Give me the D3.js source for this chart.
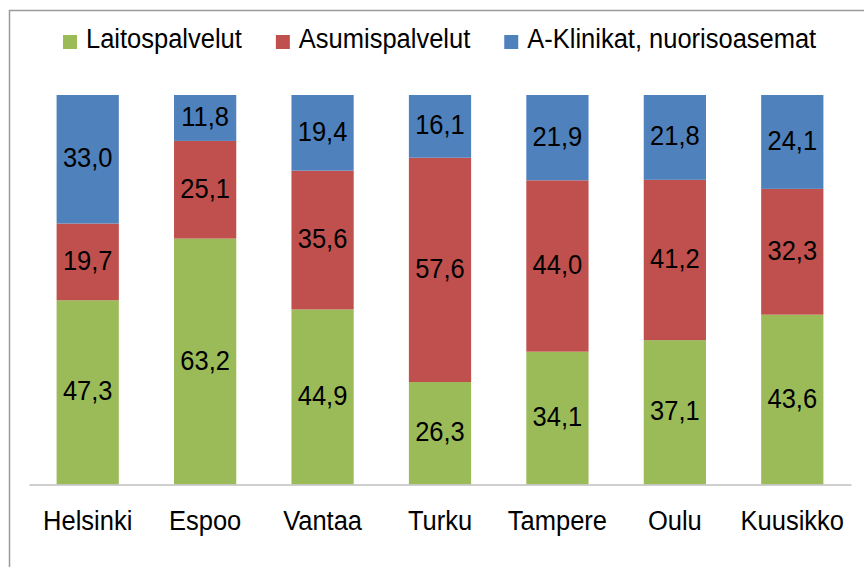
<!DOCTYPE html>
<html>
<head>
<meta charset="utf-8">
<script src="https://cdn.jsdelivr.net/npm/d3@7"></script>
<style>
  body { margin: 0; background: #fff; }
  svg { display: block; font-family: "Liberation Sans", Arial, sans-serif; }
</style>
</head>
<body>
<script>
// data
var cities = ['Helsinki', 'Espoo', 'Vantaa', 'Turku', 'Tampere', 'Oulu', 'Kuusikko'];
var laitos = [47.3, 63.2, 44.9, 26.3, 34.1, 37.1, 43.6];
var asumis = [19.7, 25.1, 35.6, 57.6, 44.0, 41.2, 32.3];
var klinikat = [33.0, 11.8, 19.4, 16.1, 21.9, 21.8, 24.1];
var seriesNames = ['Laitospalvelut', 'Asumispalvelut', 'A-Klinikat, nuorisoasemat'];
var colors = ['#9BBB59', '#C0504D', '#4F81BD'];

var keys = ['laitos', 'asumis', 'klinikat'];
var rows = cities.map(function(c, i) {
  return {city: c, laitos: laitos[i], asumis: asumis[i], klinikat: klinikat[i]};
});

var fi = d3.formatLocale({decimal: ',', thousands: ' ', grouping: [3], currency: ['', '€']});
var fmt = fi.format('.1f');

// the original text is a bit taller than plain Arial
var stretch = function(sel) {
  sel.attr('transform', function() {
    var by = +d3.select(this).attr('y');
    return 'translate(0,' + by + ') scale(1,1.09) translate(0,' + (-by) + ')';
  });
};

var svg = d3.select('body')
  .append('svg')
  .attr('width', 864)
  .attr('height', 567);

// frame of the chart area (runs off the picture right and bottom)
svg.append('rect')
  .attr('x', 9.5)
  .attr('y', 10.5)
  .attr('width', 900)
  .attr('height', 600)
  .attr('fill', 'none')
  .attr('stroke', '#9a9a9a')
  .attr('stroke-width', 1.5);

var x = d3.scaleBand()
  .domain(cities)
  .range([29, 851])
  .paddingInner(0.47)
  .paddingOuter(0.235);

var y = d3.scaleLinear()
  .domain([0, 1])
  .range([484.5, 95]);

var stacked = d3.stack()
  .keys(keys)
  .offset(d3.stackOffsetExpand)(rows);

var layers = svg.selectAll('g.layer')
  .data(stacked)
  .enter()
  .append('g')
  .attr('class', 'layer')
  .attr('fill', function(d, i) { return colors[i]; });

layers.selectAll('rect')
  .data(function(d) { return d; })
  .enter()
  .append('rect')
  .attr('x', function(d) { return x(d.data.city); })
  .attr('width', x.bandwidth())
  .attr('y', function(d) { return y(d[1]); })
  .attr('height', function(d) { return y(d[0]) - y(d[1]); });

layers.selectAll('text')
  .data(function(d) { return d.map(function(p) { p.key = d.key; return p; }); })
  .enter()
  .append('text')
  .attr('x', function(d) { return x(d.data.city) + x.bandwidth() / 2; })
  .attr('y', function(d) { return (y(d[0]) + y(d[1])) / 2 + 8; })
  .attr('text-anchor', 'middle')
  .attr('fill', '#000')
  .attr('font-size', 25.5)
  .text(function(d) { return fmt(d.data[d.key]); })
  .call(stretch);

// x axis
var axis = svg.append('g')
  .attr('transform', 'translate(0,484.5)')
  .call(d3.axisBottom(x).tickSize(0).tickPadding(0));

axis.select('.domain')
  .attr('stroke', '#bfbfbf')
  .attr('stroke-width', 1.5);

axis.selectAll('text')
  .attr('y', 45.5)
  .attr('dy', null)
  .attr('fill', '#000')
  .attr('font-size', 25.5)
  .attr('font-family', '"Liberation Sans", Arial, sans-serif')
  .call(stretch);

// legend
var legend = svg.append('g');
var lx = 63;
seriesNames.forEach(function(name, i) {
  legend.append('rect')
    .attr('x', lx)
    .attr('y', 35)
    .attr('width', 14)
    .attr('height', 14)
    .attr('fill', colors[i]);
  var t = legend.append('text')
    .attr('x', lx + 23)
    .attr('y', 48.5)
    .attr('font-size', 25.5)
    .attr('fill', '#000')
    .text(name)
    .call(stretch);
  lx = lx + 23 + t.node().getComputedTextLength() + 34;
});
</script>
</body>
</html>
